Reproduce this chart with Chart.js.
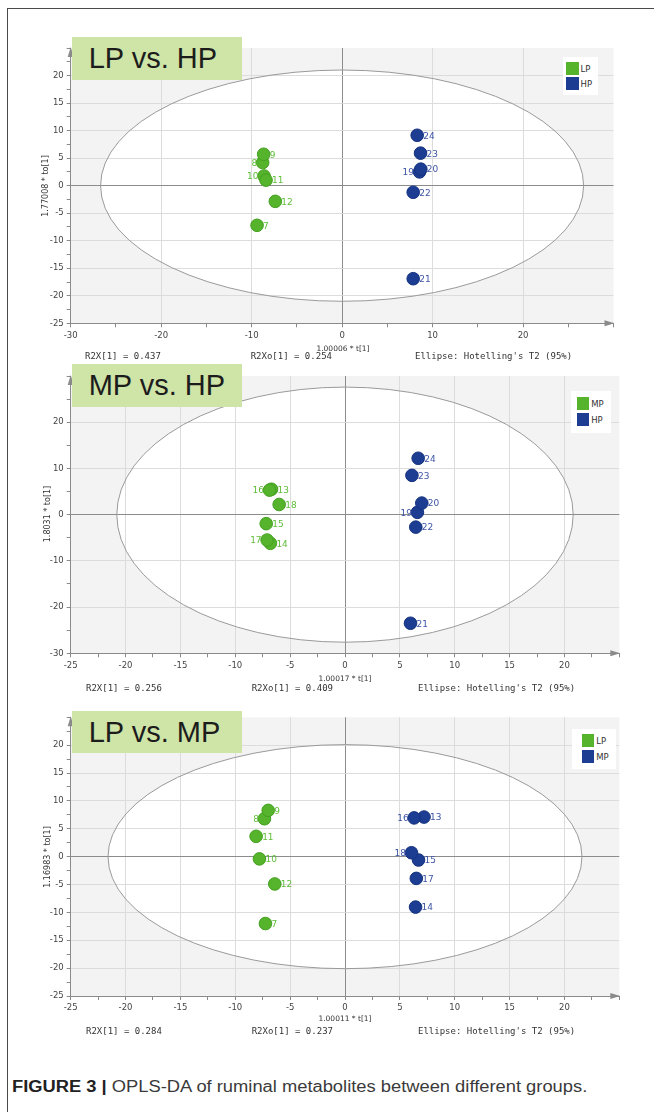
<!DOCTYPE html>
<html>
<head>
<meta charset="utf-8">
<script src="https://cdn.jsdelivr.net/npm/chart.js@4.4.1/dist/chart.umd.min.js"></script>
<style>
    body { margin: 0; width: 654px; height: 1112px; position: relative; background: #fff; overflow: hidden; font-family: "Liberation Sans", Arial, sans-serif; }
    .frame { position: absolute; left: 7px; top: 8px; width: 700px; height: 1200px; border-top: 1.5px solid #4a4a4a; border-left: 1.5px solid #4a4a4a; }
    canvas { position: absolute; left: 0; }
    .tag { position: absolute; left: 71.7px; width: 170.3px; background: #cfe4a7; color: #1c1c1c; font-size: 29px; padding-left: 17px; box-sizing: border-box; white-space: nowrap; }
    .lg { position: absolute; background: #fff; }
    .sw { position: absolute; width: 12.5px; height: 12.5px; }
    .lt { position: absolute; font: 8.5px "DejaVu Sans", sans-serif; color: #333; transform: translateY(-50%); }
    .mono { position: absolute; font: 9px "DejaVu Sans Mono", monospace; color: #333; transform: translateY(-50%); white-space: pre; }
    .xt { position: absolute; font: 7.5px "DejaVu Sans", sans-serif; color: #333; transform: translate(-50%, -50%); white-space: nowrap; }
    .yt { position: absolute; font: 8px "DejaVu Sans", sans-serif; color: #333; transform: translate(-50%, -50%) rotate(-90deg); white-space: nowrap; }
    .cap { position: absolute; left: 12px; top: 1078px; font-size: 16px; color: #3a3a3a; white-space: nowrap; transform-origin: 0 0; }
    .cap b { color: #222; }
</style>
</head>
<body>
<div class="frame"></div>
<canvas id="c1"></canvas>
<canvas id="c2"></canvas>
<canvas id="c3"></canvas>
<div class="cap" id="cap"><b>FIGURE 3 |</b> OPLS-DA of ruminal metabolites between different groups.</div>
<script>
// ---- LP vs. HP
const P1_GROUPS = ['LP', 'HP'];
const P1_A_ID = ['7', '8', '9', '10', '11', '12'];
const P1_A_X = [-9.4, -8.78, -8.67, -8.63, -8.41, -7.38];
const P1_A_Y = [-7.2, 4.2, 5.7, 1.75, 1.0, -2.85];
const P1_B_ID = ['19', '20', '21', '22', '23', '24'];
const P1_B_X = [8.56, 8.7, 7.86, 7.86, 8.67, 8.3];
const P1_B_Y = [2.5, 3.0, -16.9, -1.2, 5.9, 9.15];
const P1_X_RANGE = [-30, 30];
const P1_Y_RANGE = [-25, 25];
const P1_ELLIPSE = [26.7, 21.0];
const P1_TEXT = ['1.00006 * t[1]', '1.77008 * to[1]', 'R2X[1] = 0.437', 'R2Xo[1] = 0.254'];

// ---- MP vs. HP
const P2_GROUPS = ['MP', 'HP'];
const P2_A_ID = ['13', '14', '15', '16', '17', '18'];
const P2_A_X = [-6.7, -6.8, -7.18, -6.88, -7.1, -6.0];
const P2_A_Y = [5.5, -6.2, -1.95, 5.3, -5.5, 2.2];
const P2_B_ID = ['19', '20', '21', '22', '23', '24'];
const P2_B_X = [6.6, 7.0, 5.97, 6.45, 6.1, 6.67];
const P2_B_Y = [0.5, 2.5, -23.5, -2.7, 8.5, 12.2];
const P2_X_RANGE = [-25, 25];
const P2_Y_RANGE = [-30, 30];
const P2_ELLIPSE = [20.8, 27.6];
const P2_TEXT = ['1.00017 * t[1]', '1.8031 * to[1]', 'R2X[1] = 0.256', 'R2Xo[1] = 0.409'];

// ---- LP vs. MP
const P3_GROUPS = ['LP', 'MP'];
const P3_A_ID = ['7', '8', '9', '10', '11', '12'];
const P3_A_X = [-7.25, -7.34, -7.0, -7.8, -8.1, -6.4];
const P3_A_Y = [-12.0, 6.8, 8.3, -0.4, 3.65, -4.9];
const P3_B_ID = ['13', '14', '15', '16', '17', '18'];
const P3_B_X = [7.2, 6.43, 6.7, 6.3, 6.5, 6.06];
const P3_B_Y = [7.1, -9.05, -0.6, 6.95, -3.9, 0.7];
const P3_X_RANGE = [-25, 25];
const P3_Y_RANGE = [-25, 25];
const P3_ELLIPSE = [21.6, 20.1];
const P3_TEXT = ['1.00011 * t[1]', '1.16983 * to[1]', 'R2X[1] = 0.284', 'R2Xo[1] = 0.237'];

const ELLIPSE_LABEL = "Ellipse: Hotelling's T2 (95%)";

const GREEN = '#55b42c', GREEN_EDGE = '#43a020', GREEN_TXT = '#5fbd38';
const BLUE = '#1d3d93', BLUE_EDGE = '#15327f', BLUE_TXT = '#3e55a6';

const PANELS = [
    { id: 'c1', top: 30, h: 330, pad: { left: 30.7, right: 40.5, top: 18, bottom: 16.7 },
      groups: P1_GROUPS, a: [P1_A_ID, P1_A_X, P1_A_Y], b: [P1_B_ID, P1_B_X, P1_B_Y],
      xr: P1_X_RANGE, yr: P1_Y_RANGE, xs: [5, 10], ys: [2.5, 5], ell: P1_ELLIPSE, text: P1_TEXT,
      leftLabels: ['8', '10', '19'],
      tag: { top: 37.3, h: 42.7, label: 'LP vs. HP' },
      legend: { x: 563, y: 57, w: 35, h: 38, sx: 566, sy: [62.3, 77] },
      xt: [343, 348], yt: [45, 186], foot: [356, 85, 250.7, 415] },
    { id: 'c2', top: 360, h: 340, pad: { left: 30.7, right: 34.7, top: 16, bottom: 26.7 },
      groups: P2_GROUPS, a: [P2_A_ID, P2_A_X, P2_A_Y], b: [P2_B_ID, P2_B_X, P2_B_Y],
      xr: P2_X_RANGE, yr: P2_Y_RANGE, xs: [2.5, 5], ys: [5, 10], ell: P2_ELLIPSE, text: P2_TEXT,
      leftLabels: ['16', '17', '19'],
      tag: { top: 364, h: 42.7, label: 'MP vs. HP' },
      legend: { x: 570.7, y: 391, w: 40.3, h: 41.7, sx: 576.7, sy: [397.3, 413.3] },
      xt: [345, 678], yt: [46.7, 514], foot: [688, 86, 251.7, 418] },
    { id: 'c3', top: 700, h: 340, pad: { left: 30.7, right: 34.7, top: 17.3, bottom: 24 },
      groups: P3_GROUPS, a: [P3_A_ID, P3_A_X, P3_A_Y], b: [P3_B_ID, P3_B_X, P3_B_Y],
      xr: P3_X_RANGE, yr: P3_Y_RANGE, xs: [2.5, 5], ys: [2.5, 5], ell: P3_ELLIPSE, text: P3_TEXT,
      leftLabels: ['8', '16', '18'],
      tag: { top: 710.7, h: 42, label: 'LP vs. MP' },
      legend: { x: 572, y: 729, w: 43.7, h: 40, sx: 581.7, sy: [734.3, 750] },
      xt: [345, 1018], yt: [46.7, 857], foot: [1031, 86, 251.7, 418] },
];

const near = (v, step) => Math.abs(v / step - Math.round(v / step)) < 1e-6;

function addEl(cls, css, text) {
    const d = document.createElement('div');
    d.className = cls;
    Object.assign(d.style, css);
    if (text != null) d.textContent = text;
    document.body.appendChild(d);
    return d;
}

const backdrop = {
    id: 'backdrop',
    beforeDraw(chart, args, opts) {
        const { ctx, chartArea: a, scales: { x, y } } = chart;
        ctx.save();
        ctx.fillStyle = '#f3f3f3';
        ctx.fillRect(a.left, a.top, a.right - a.left, a.bottom - a.top);
        ctx.beginPath();
        const cx = x.getPixelForValue(0), cy = y.getPixelForValue(0);
        ctx.ellipse(cx, cy, x.getPixelForValue(opts.rx) - cx, cy - y.getPixelForValue(opts.ry), 0, 0, Math.PI * 2);
        ctx.fillStyle = '#fff';
        ctx.fill();
        ctx.restore();
    },
    beforeDatasetsDraw(chart, args, opts) {
        const { ctx, scales: { x, y } } = chart;
        const cx = x.getPixelForValue(0), cy = y.getPixelForValue(0);
        ctx.save();
        ctx.beginPath();
        ctx.ellipse(cx, cy, x.getPixelForValue(opts.rx) - cx, cy - y.getPixelForValue(opts.ry), 0, 0, Math.PI * 2);
        ctx.strokeStyle = '#9a9a9a';
        ctx.lineWidth = 1;
        ctx.stroke();
        ctx.restore();
    },
    afterDraw(chart) {
        const { ctx, chartArea: a } = chart;
        ctx.save();
        ctx.fillStyle = '#8a8a8a';
        ctx.beginPath();
        ctx.moveTo(a.left, a.top - 1);
        ctx.lineTo(a.left - 3, a.top + 9);
        ctx.lineTo(a.left + 3, a.top + 9);
        ctx.fill();
        ctx.beginPath();
        ctx.moveTo(a.right + 1, a.bottom);
        ctx.lineTo(a.right - 9, a.bottom - 3);
        ctx.lineTo(a.right - 9, a.bottom + 3);
        ctx.fill();
        ctx.restore();
    },
};

const pointLabels = {
    id: 'pointLabels',
    afterDatasetsDraw(chart, args, opts) {
        const { ctx } = chart;
        ctx.save();
        ctx.font = '9px "DejaVu Sans", sans-serif';
        ctx.textBaseline = 'middle';
        chart.data.datasets.forEach((ds, i) => {
            ctx.fillStyle = ds.labelColor;
            chart.getDatasetMeta(i).data.forEach((el, j) => {
                const id = ds.data[j].id;
                const left = opts.left.includes(id);
                ctx.textAlign = left ? 'right' : 'left';
                ctx.fillText(id, el.x + (left ? -5.5 : 6), el.y + 1);
            });
        });
        ctx.restore();
    },
};

function axis(range, steps, isX) {
    const [min, max] = range;
    const [minor, major] = steps;
    return {
        type: 'linear', min, max,
        afterFit: (s) => { if (isX) s.height = 20; else s.width = 40; },
        border: { color: '#8a8a8a', width: 1 },
        grid: {
            color: (c) => {
                const v = c.tick.value;
                if (Math.abs(v) < 1e-9) return '#8c8c8c';
                if (v > max - 1e-9) return 'rgba(0,0,0,0)';
                return near(v, major) ? '#dcdcdc' : 'rgba(0,0,0,0)';
            },
            tickColor: '#8a8a8a', tickLength: 4, lineWidth: 1,
        },
        ticks: {
            stepSize: minor, autoSkip: false, maxRotation: 0, padding: 3,
            color: '#444', font: { family: 'DejaVu Sans', size: 8.5 },
            callback: (v) => (near(v, major) && v < max - 1e-9 ? String(v) : ''),
        },
    };
}

function pts(ids, xs, ys) {
    return ids.map((id, i) => ({ x: xs[i], y: ys[i], id }));
}

PANELS.forEach((p) => {
    const cv = document.getElementById(p.id);
    cv.style.top = p.top + 'px';
    cv.width = 654; cv.height = p.h;
    cv.style.width = '654px'; cv.style.height = p.h + 'px';

    new Chart(cv, {
        type: 'scatter',
        data: {
            datasets: [
                { label: p.groups[0], data: pts(...p.a), backgroundColor: GREEN, borderColor: GREEN_EDGE, labelColor: GREEN_TXT, pointRadius: 6.3, borderWidth: 1 },
                { label: p.groups[1], data: pts(...p.b), backgroundColor: BLUE, borderColor: BLUE_EDGE, labelColor: BLUE_TXT, pointRadius: 6.3, borderWidth: 1 },
            ],
        },
        options: {
            responsive: false, animation: false, devicePixelRatio: 1,
            layout: { padding: p.pad },
            plugins: {
                legend: { display: false }, tooltip: { enabled: false },
                backdrop: { rx: p.ell[0], ry: p.ell[1] },
                pointLabels: { left: p.leftLabels },
            },
            scales: { x: axis(p.xr, p.xs, true), y: axis(p.yr, p.ys, false) },
        },
        plugins: [backdrop, pointLabels],
    });

    // title tag
    addEl('tag', { top: p.tag.top + 'px', height: p.tag.h + 'px', lineHeight: p.tag.h + 'px' }, p.tag.label);
    // legend
    const L = p.legend;
    addEl('lg', { left: L.x + 'px', top: L.y + 'px', width: L.w + 'px', height: L.h + 'px' });
    [GREEN, BLUE].forEach((c, i) => {
        addEl('sw', { left: L.sx + 'px', top: L.sy[i] + 'px', background: c });
        addEl('lt', { left: (L.sx + 14.5) + 'px', top: (L.sy[i] + 6.5) + 'px' }, p.groups[i]);
    });
    // axis titles and footer
    addEl('xt', { left: p.xt[0] + 'px', top: p.xt[1] + 'px' }, p.text[0]);
    addEl('yt', { left: p.yt[0] + 'px', top: p.yt[1] + 'px' }, p.text[1]);
    addEl('mono', { left: p.foot[1] + 'px', top: p.foot[0] + 'px' }, p.text[2]);
    addEl('mono', { left: p.foot[2] + 'px', top: p.foot[0] + 'px' }, p.text[3]);
    addEl('mono', { left: p.foot[3] + 'px', top: p.foot[0] + 'px' }, ELLIPSE_LABEL);
});

// stretch the caption to the reference width
const cap = document.getElementById('cap');
cap.style.transform = 'scaleX(' + (575 / cap.offsetWidth) + ')';
</script>
</body>
</html>
